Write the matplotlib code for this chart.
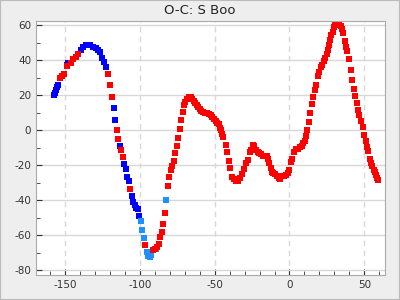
import matplotlib
matplotlib.use("Agg")
import matplotlib.pyplot as plt
from matplotlib.ticker import MultipleLocator
from matplotlib.patches import Rectangle

# O-C values, per colour group
blue_x = [-157.3, -156.7, -156.0, -155.1, -154.7, -148.9, -147.7,
          -139.5, -137.7, -136.2, -134.4, -132.9, -131.1, -129.5, -128.0, -126.7,
          -125.1, -124.0, -122.4, -117.3, -116.7, -113.3, -110.7, -109.3, -108.3,
          -107.3, -105.3, -104.7, -103.5, -102.7, -101.3, -100.7]
blue_y = [20.0, 21.2, 23.0, 24.8, 26.0, 37.3, 38.3,
          46.0, 47.6, 48.6, 48.7, 48.3, 47.7, 46.8, 45.9, 44.6,
          41.1, 38.9, 35.8, 12.3, 5.7, -9.1, -19.4, -22.3, -27.0,
          -29.1, -37.7, -41.1, -42.9, -44.4, -45.1, -49.1]

lblue_x = [-99.3, -98.7, -97.3, -95.1, -94.4, -93.3, -92.4, -88.9, -82.7]
lblue_y = [-52.0, -57.1, -61.7, -69.9, -71.8, -72.6, -71.3, -68.0, -40.0]

red_x = [-153.3, -151.7, -150.7, -148.4, -146.2, -144.4, -142.9, -141.3,
         -121.1, -120.0, -118.8, -115.3, -114.7, -112.7, -111.3, -106.7, -96.7,
         -91.3, -90.0, -88.7, -87.3, -86.7, -85.3, -84.7, -83.3, -81.3, -80.7,
         -79.3, -78.7, -77.3, -76.7, -75.3, -74.7, -73.3, -72.7, -71.3, -70.7,
         -70.0, -68.7, -67.3, -66.0, -65.3, -64.0, -63.3, -62.0, -61.3, -60.0,
         -59.3, -58.0, -56.7, -55.3, -54.0, -52.7, -52.0, -50.7, -49.3, -48.7,
         -47.3, -46.7, -46.0, -45.3, -44.7, -42.7, -42.0, -40.7, -40.0, -38.7,
         -37.3, -36.0, -34.7, -33.3, -32.0, -30.7, -29.3, -28.0, -26.7, -25.5,
         -24.2, -23.5, -22.2, -20.9, -20.2, -18.9, -17.5, -16.2, -14.9, -14.2,
         -13.5, -12.2, -11.5, -10.9, -9.5, -8.2, -6.9, -6.2, -4.9, -3.5,
         -2.2, -0.9, -0.2, 1.1, 1.8, 3.1, 4.5, 5.8, 7.1, 8.5,
         9.1, 10.5, 11.1, 11.8, 13.1, 14.0, 15.3, 16.0, 17.3, 18.0,
         19.3, 20.0, 21.3, 22.0, 23.3, 24.0, 25.3, 26.0, 26.7, 27.3,
         28.0, 29.3, 30.0, 30.7, 32.0, 33.3, 34.7, 35.3, 36.0, 37.3,
         38.0, 38.7, 40.0, 41.3, 42.0, 43.3, 44.0, 45.3, 46.0, 46.7,
         48.0, 49.3, 50.0, 51.3, 52.0, 52.7, 54.0, 54.7, 55.3, 56.7,
         57.3, 58.0, 58.7, 59.3]
red_y = [29.7, 31.0, 32.2, 36.4, 38.3, 40.6, 41.7, 43.6,
         32.0, 25.8, 19.0, 0.0, -5.0, -11.4, -15.4, -33.7, -65.7,
         -68.6, -68.0, -66.9, -65.1, -61.1, -58.3, -53.7, -47.4, -32.0, -26.9,
         -22.9, -20.8, -17.5, -13.1, -9.4, -4.6, 0.6, 5.7, 10.3, 14.3,
         16.0, 17.7, 18.9, 18.9, 17.7, 16.6, 15.4, 14.3, 13.1, 12.0,
         10.9, 10.3, 9.7, 9.7, 9.1, 8.6, 7.4, 6.3, 5.1, 4.0,
         3.4, 1.1, -0.2, -2.3, -4.0, -8.6, -12.8, -17.5, -21.7, -26.9,
         -28.0, -29.1, -29.1, -27.6, -25.0, -22.0, -18.9, -17.1, -12.6, -11.3,
         -8.4, -9.4, -11.7, -12.8, -13.1, -13.7, -14.7, -14.7, -14.7, -16.6,
         -18.9, -21.7, -24.2, -24.6, -25.1, -26.5, -27.4, -27.8, -26.5, -26.1,
         -25.5, -24.6, -23.1, -18.3, -16.4, -12.6, -10.9, -10.9, -9.9, -9.0,
         -7.4, -6.5, -3.3, 0.2, 4.6, 9.7, 14.9, 19.0, 22.6, 25.9,
         30.6, 33.1, 35.8, 37.3, 39.2, 41.1, 43.4, 45.9, 48.7, 51.6,
         54.5, 56.0, 58.6, 60.6, 61.1, 60.2, 59.6, 57.7, 55.4, 51.0,
         47.4, 44.9, 40.7, 34.3, 28.7, 23.6, 19.6, 15.4, 11.6, 8.7,
         5.3, 1.7, -2.7, -6.1, -9.9, -12.2, -16.4, -18.9, -20.8, -22.7,
         -24.2, -25.5, -27.4, -28.8]

plt.rcParams['axes.unicode_minus'] = False

fig = plt.figure(figsize=(4, 3), dpi=100, facecolor="#eeeeee")
fig.patches.append(Rectangle((0, 0), 1, 1, transform=fig.transFigure,
                             fill=False, edgecolor="#bbbbbb", linewidth=1.5))
ax = fig.add_axes([0.09, 0.083, 0.8725, 0.847])

ms = 4
ax.plot(blue_x, blue_y, "s", color="#0000ff", ms=ms, mew=0)
ax.plot(lblue_x, lblue_y, "s", color="#1e90ff", ms=ms, mew=0)
ax.plot(red_x, red_y, "s", color="#ff0000", ms=ms, mew=0)

ax.set_xlim(-169.3, 63.8)
ax.set_ylim(-82.9, 62.3)
ax.xaxis.set_major_locator(MultipleLocator(50))
ax.xaxis.set_minor_locator(MultipleLocator(10))
ax.yaxis.set_major_locator(MultipleLocator(20))
ax.yaxis.set_minor_locator(MultipleLocator(10))

ax.grid(axis="y", which="major", color="#d8d8d8", linestyle="-", linewidth=1)
ax.grid(axis="x", which="major", color="#d8d8d8", linestyle=(0, (4, 3)), linewidth=1)
ax.set_axisbelow(True)

ax.tick_params(which="both", direction="in", colors="#333333", labelsize=7.5,
               top=False, right=False)
ax.tick_params(which="major", length=4)
ax.tick_params(which="minor", length=3)
for sp in ax.spines.values():
    sp.set_color("#aaaaaa")

fig.text(0.5, 0.965, "O-C: S Boo", ha="center", va="center", fontsize=9.5,
         color="#222222")

fig.savefig("out.png", dpi=100, facecolor=fig.get_facecolor())
